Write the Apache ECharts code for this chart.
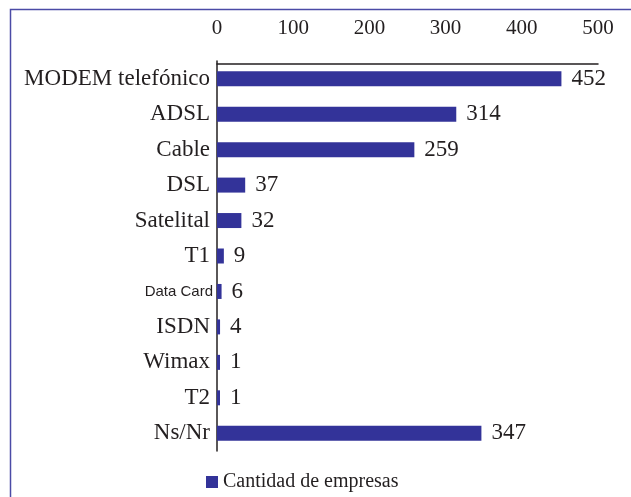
<!DOCTYPE html>
<html>
<head>
<meta charset="utf-8">
<script src="https://cdn.jsdelivr.net/npm/echarts@6/dist/echarts.min.js"></script>
<style>
  html, body { margin: 0; padding: 0; background: #fff; }
  #grafico { width: 631px; height: 497px; }
</style>
</head>
<body>
<div id="grafico"></div>
<script>
var categorias = ['MODEM telefónico', 'ADSL', 'Cable', 'DSL', 'Satelital', 'T1', 'Data Card', 'ISDN', 'Wimax', 'T2', 'Ns/Nr'];
var empresas = [452, 314, 259, 37, 32, 9, 6, 4, 1, 1, 347];
var ticksX = [0, 100, 200, 300, 400, 500];

var chartDom = document.getElementById('grafico');
var myChart = echarts.init(chartDom);
var option;

var serif = 'Liberation Serif';
var azul = '#333399';

option = {
  animation: false,
  textStyle: { fontFamily: serif },
  graphic: [
    {
      type: 'rect',
      shape: { x: 10.5, y: 9.5, width: 700, height: 600 },
      style: { fill: 'none', stroke: '#4b4ba6', lineWidth: 1.5 },
      silent: true
    }
  ],
  grid: {
    left: 217,
    right: 33,
    top: 61,
    height: 390
  },
  legend: {
    data: ['Cantidad de empresas'],
    left: 201,
    top: 467,
    itemWidth: 12,
    itemHeight: 12,
    itemGap: 5,
    icon: 'rect',
    textStyle: { fontFamily: serif, fontSize: 20, color: '#231f20' }
  },
  xAxis: {
    type: 'value',
    position: 'top',
    min: ticksX[0],
    max: ticksX[ticksX.length - 1],
    interval: 100,
    offset: -3,
    axisLine: { show: true, lineStyle: { color: '#231f20', width: 1.5 } },
    axisTick: { show: false },
    splitLine: { show: false },
    axisLabel: {
      margin: 25,
      fontFamily: serif,
      fontSize: 21,
      color: '#231f20'
    }
  },
  yAxis: {
    type: 'category',
    inverse: true,
    data: categorias,
    axisLine: { show: true, lineStyle: { color: '#231f20', width: 1.5 } },
    axisTick: { show: false },
    axisLabel: {
      margin: 7,
      fontFamily: serif,
      fontSize: 23,
      color: '#231f20',
      formatter: function (v) {
        if (v === 'Data Card') return '{s|' + v + '}';
        return v;
      },
      rich: {
        s: { fontFamily: 'Liberation Sans', fontSize: 15, color: '#231f20', padding: [0, -3, 0, 0] }
      }
    }
  },
  series: [
    {
      name: 'Cantidad de empresas',
      type: 'bar',
      data: empresas,
      barWidth: 15,
      barMinHeight: 3,
      itemStyle: { color: azul },
      label: {
        show: true,
        position: 'right',
        distance: 10,
        fontFamily: serif,
        fontSize: 23,
        color: '#231f20'
      }
    }
  ]
};

option && myChart.setOption(option);
</script>
</body>
</html>
